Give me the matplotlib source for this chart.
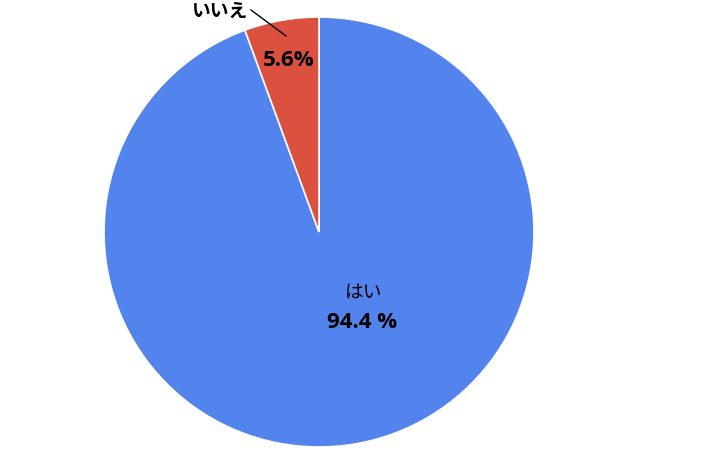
import matplotlib
matplotlib.use("Agg")
import matplotlib.pyplot as plt

plt.rcParams['font.family'] = ['Noto Sans CJK JP', 'DejaVu Sans']

# data
labels = ['はい', 'いいえ']
values = [94.4, 5.6]
value_texts = ['94.4 %', '5.6%']
colors = ['#5383EC', '#DC5040']

W, H = 701, 458
fig = plt.figure(figsize=(W / 100, H / 100), dpi=100)

# pie centre (319, 232) px, radius 215 px
cx, cy, r = 319, 232, 215
ax = fig.add_axes([(cx - r) / W, 1 - (cy + r) / H, 2 * r / W, 2 * r / H])

wedges, _ = ax.pie(values, colors=colors, startangle=90, counterclock=False,
                   radius=1.0, wedgeprops=dict(edgecolor='white', linewidth=1.2))
ax.set_xlim(-1, 1)
ax.set_ylim(-1, 1)
ax.set_aspect('equal')
ax.axis('off')


def px(x, y):
    return (x - cx) / r, (cy - y) / r


num_font = ['Open Sans', 'DejaVu Sans']

# はい label inside the big slice
ax.text(*px(364, 292), labels[0], ha='center', va='center', fontsize=13.5)
ax.text(*px(362, 323), value_texts[0], ha='center', va='center',
        fontsize=16, fontweight='bold', family=num_font)

# いいえ label outside with leader line
ax.text(*px(219, 11), labels[1], ha='center', va='center', fontsize=13.5,
        fontweight='bold', clip_on=False)
x0, y0 = px(251, 10)
x1, y1 = px(286, 36)
ax.plot([x0, x1], [y0, y1], color='black', linewidth=1, clip_on=False)
ax.text(*px(289, 60), value_texts[1], ha='center', va='center',
        fontsize=16, fontweight='bold', family=num_font)

fig.savefig('out.png', dpi=100)
